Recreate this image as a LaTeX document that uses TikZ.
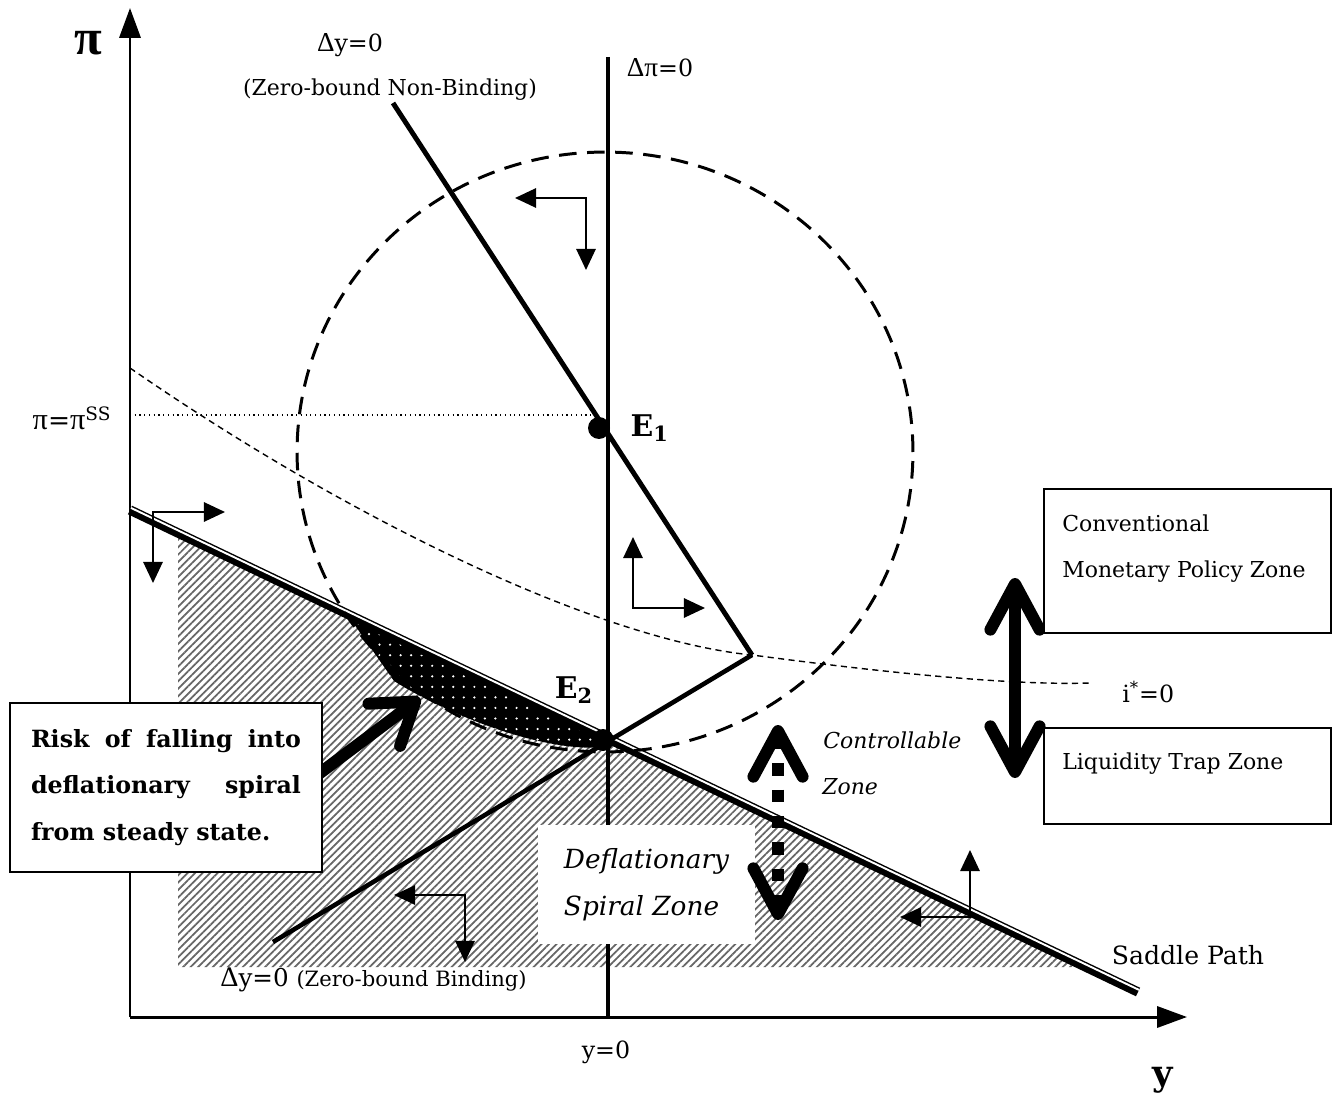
\documentclass[tikz,border=0pt]{standalone}
\usepackage{fontspec}
\setmainfont{DejaVu Serif}
\newfontfamily\greekfont[Scale=1.15]{Liberation Serif}
\usetikzlibrary{positioning}
\usetikzlibrary{arrows.meta}
\usetikzlibrary{patterns.meta}

\newcommand{\gpi}{{\greekfont π}}
\newcommand{\gdelta}{{\greekfont Δ}}

\tikzset{
  axis/.style={line width=1.7pt, -{Triangle[length=17pt,width=12pt]}},
  schedule/.style={line width=2.8pt},
  flow/.style={line width=1.1pt, {Triangle[length=12pt,width=11pt]}-{Triangle[length=12pt,width=11pt]}},
  bigarrow/.style={line width=6.8pt, line cap=round, {Straight Barb[length=26pt,width=28pt,round]}-{Straight Barb[length=26pt,width=28pt,round]}},
  pointer/.style={line width=6.8pt, -{Straight Barb[length=22pt,width=30pt,round]}},
  hatch/.style={pattern={Lines[angle=45,distance=3pt,line width=1pt]}, pattern color=black!60},
  dotzone/.style={preaction={fill=black}, pattern={Dots[distance=6pt,radius=0.7pt]}, pattern color=white},
  eqdot/.style={circle, fill=black, inner sep=0pt, minimum size=0.44cm},
  eqlabel/.style={font=\bfseries\fontsize{17}{19}\selectfont, inner sep=0pt},
  lbl/.style={font=\fontsize{13.5}{16}\selectfont, inner sep=0pt},
  note/.style={font=\fontsize{12.5}{15}\selectfont, inner sep=0pt},
  zonebox/.style={draw, line width=1.1pt, fill=white, inner sep=0pt},
  zonetext/.style={font=\fontsize{12.5}{15}\selectfont, inner sep=0pt, anchor=west},
}

\begin{document}
\begin{tikzpicture}[x=0.02cm, y=-0.02cm]
\useasboundingbox (0,0) rectangle (1339,1098);

% key points
\coordinate (O) at (130,1017);
\coordinate (ytop) at (130,8);
\coordinate (xend) at (1187,1017);
\coordinate (sp1) at (130,510);
\coordinate (sp2) at (1138,992);
\coordinate (dpitop) at (608,57);
\coordinate (dpibot) at (608,1017);
\coordinate (nbtop) at (393,103);
\coordinate (K) at (752,655);
\coordinate (bend) at (273,942);

% zones
\path[hatch] (178,533) -- (1086,967) -- (178,967) -- cycle;
\path[dotzone] (347,614) -- (606,737) -- (604,747) .. controls (545,753) and (450,716) .. (394,681) -- cycle;

% Delta pi = 0
\draw[schedule] (dpitop) -- (dpibot);
\node[fill=white, minimum width=4.34cm, minimum height=2.38cm, align=left,
      font=\itshape\fontsize{15}{26.6}\selectfont] (spiral) at (646.5,884.5) {Deflationary\\Spiral Zone};

% axes
\draw[axis] (O) -- (ytop);
\draw[axis] (O) -- (xend);

% saddle path
\draw[line width=5.4pt] (sp1) -- (sp2);
\draw[white, line width=1.1pt] ([shift={(1,-2.1)}]sp1) -- ([shift={(1,-2.1)}]sp2);

% circle and i*=0
\draw[line width=1.7pt, dash pattern=on 10pt off 6pt] (605,452) ellipse [x radius=6.16cm, y radius=6cm];
\draw[line width=0.8pt, dash pattern=on 3.5pt off 2.5pt] (130,368) .. controls (350,520) and (600,640) .. (K)
  .. controls (850,668) and (1000,686) .. (1090,683) coordinate (iend);

% Delta y = 0
\draw[schedule] (nbtop) -- (K);
\draw[line width=2.6pt] (K) -- (bend);
\draw[dotted, line width=0.7pt] (130,415) -- (598,415);

\node[eqdot] (E1) at (599,428) {};
\node[eqdot] (E2) at (603,740) {};
\node[eqlabel, right=0.4cm of E1] {E\textsubscript{1}};
\node[eqlabel] at (574,690) {E\textsubscript{2}};

% directions of motion
\draw[flow] (515,198) -| (586,270);
\draw[flow] (633,537) |- (705,608);
\draw[flow] (225,512) -| (153,583);
\draw[flow] (394,895) -| (465,962);
\draw[flow] (970,850) |- (900,917);

% zone arrows
\draw[bigarrow] (1015,578) -- (1015,778);
\draw[bigarrow, line cap=butt, dash pattern=on 7pt off 8pt] (778,725) -- (778,920);
\draw[pointer] (300,788) -- (420,698);

% boxes
\node[zonebox, minimum width=5.74cm, minimum height=2.88cm, anchor=north west] (convbox) at (1043,488) {};
\node[zonetext] at (1062,523) {Conventional};
\node[zonetext] at (1062,572) {Monetary Policy Zone};
\node[zonebox, minimum width=5.74cm, minimum height=1.92cm, anchor=north west] (trapbox) at (1043,727) {};
\node[zonetext] at (1062,764) {Liquidity Trap Zone};
\node[zonebox, minimum width=6.24cm, minimum height=3.38cm, text width=5.4cm, align=justify,
      font=\bfseries\fontsize{13.5}{26.6}\selectfont] (riskbox) at (166,787.5)
      {Risk of falling into\linebreak deflationary spiral\linebreak from steady state.};

% labels
\node[font=\greekfont\bfseries\fontsize{25}{30}\selectfont] (pilab) at (88,43) {π};
\node[font=\bfseries\fontsize{20}{22}\selectfont] (ylab) at (1163,1080) {y};
\node[lbl] (nblab) at (350,45) {\gdelta y=0};
\node[note] (nbnote) at (390,90) {(Zero-bound Non-Binding)};
\node[lbl] (dpilab) at (660,68) {\gdelta\gpi=0};
\node[lbl, font=\fontsize{15}{17}\selectfont] (sslab) at (72,418) {\gpi=\gpi\textsuperscript{SS}};
\node[lbl, anchor=west] (izlab) at (1122,692) {i\textsuperscript{*}=0};
\node[lbl, font=\fontsize{14.3}{17}\selectfont] (sadlab) at (1188,955) {Saddle Path};
\node[lbl] (y0lab) at (606,1052) {y=0};
\node[anchor=west, inner sep=0pt] (blab) at (220,980) {\fontsize{14}{16}\selectfont \gdelta y=0 \fontsize{12}{14}\selectfont(Zero-bound Binding)};
\node[note, font=\itshape\fontsize{12.5}{15}\selectfont, anchor=west] (ctrl1) at (823,740) {Controllable};
\node[note, font=\itshape\fontsize{12.5}{15}\selectfont, anchor=west] (ctrl2) at (822,787) {Zone};
\end{tikzpicture}
\end{document}
